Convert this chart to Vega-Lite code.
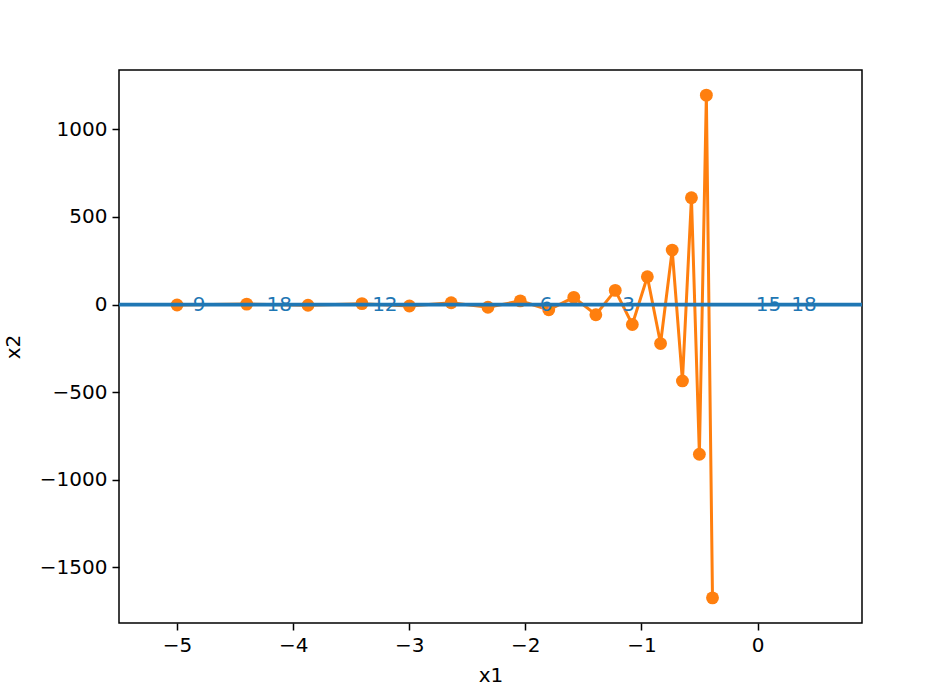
{
  "$schema": "https://vega.github.io/schema/vega-lite/v6.json",
  "width": 743,
  "height": 553,
  "autosize": "none",
  "padding": {"left": 119, "top": 70, "right": 75, "bottom": 77},
  "background": "white",
  "config": {
    "font": "DejaVu Sans",
    "view": {"stroke": "black", "strokeWidth": 1.5},
    "axis": {
      "domain": false,
      "grid": false,
      "tickColor": "black",
      "tickSize": 7,
      "tickWidth": 1.5,
      "labelFont": "DejaVu Sans",
      "labelFontSize": 20,
      "labelColor": "black",
      "labelPadding": 5,
      "titleFont": "DejaVu Sans",
      "titleFontSize": 20,
      "titleFontWeight": "normal",
      "titleColor": "black"
    }
  },
  "datasets": {
    "trace": [
      {"step": 0, "x1": -5.0, "x2": -2.0},
      {"step": 1, "x1": -4.4, "x2": 2.8},
      {"step": 2, "x1": -3.872, "x2": -3.92},
      {"step": 3, "x1": -3.40736, "x2": 5.488},
      {"step": 4, "x1": -2.99848, "x2": -7.6832},
      {"step": 5, "x1": -2.63866, "x2": 10.7565},
      {"step": 6, "x1": -2.32202, "x2": -15.0591},
      {"step": 7, "x1": -2.04338, "x2": 21.0827},
      {"step": 8, "x1": -1.79818, "x2": -29.5158},
      {"step": 9, "x1": -1.5824, "x2": 41.3221},
      {"step": 10, "x1": -1.39251, "x2": -57.851},
      {"step": 11, "x1": -1.22541, "x2": 80.991},
      {"step": 12, "x1": -1.07836, "x2": -113.388},
      {"step": 13, "x1": -0.94896, "x2": 158.743},
      {"step": 14, "x1": -0.83508, "x2": -222.24},
      {"step": 15, "x1": -0.73487, "x2": 311.136},
      {"step": 16, "x1": -0.64669, "x2": -435.59},
      {"step": 17, "x1": -0.56909, "x2": 609.826},
      {"step": 18, "x1": -0.5008, "x2": -853.757},
      {"step": 19, "x1": -0.4407, "x2": 1195.259},
      {"step": 20, "x1": -0.38782, "x2": -1673.363}
    ],
    "labels": [
      {"x1": -4.81, "x2": 0, "label": "9"},
      {"x1": -4.12, "x2": 0, "label": "18"},
      {"x1": -3.21, "x2": 0, "label": "12"},
      {"x1": -1.82, "x2": 0, "label": "6"},
      {"x1": -1.11, "x2": 0, "label": "3"},
      {"x1": 0.095, "x2": 0, "label": "15"},
      {"x1": 0.40, "x2": 0, "label": "18"}
    ],
    "contour": [
      {"x2": 0}
    ]
  },
  "layer": [
    {
      "data": {"name": "trace"},
      "mark": {"type": "line", "color": "#ff7f0e", "strokeWidth": 3},
      "encoding": {
        "order": {"field": "step", "type": "quantitative"},
        "x": {
          "field": "x1", "type": "quantitative",
          "scale": {"domain": [-5.5, 0.9], "nice": false, "zero": false},
          "axis": {"title": "x1", "values": [-5, -4, -3, -2, -1, 0], "format": "d", "labelExpr": "replace(datum.label, '-', '−')", "titlePadding": 10}
        },
        "y": {
          "field": "x2", "type": "quantitative",
          "scale": {"domain": [-1816.79, 1338.69], "nice": false, "zero": false},
          "axis": {"title": "x2", "values": [-1500, -1000, -500, 0, 500, 1000], "format": "d", "labelExpr": "replace(datum.label, '-', '−')", "titlePadding": 16}
        }
      }
    },
    {
      "data": {"name": "trace"},
      "mark": {"type": "circle", "color": "#ff7f0e", "opacity": 1, "size": 165},
      "encoding": {
        "x": {"field": "x1", "type": "quantitative", "scale": {"domain": [-5.5, 0.9], "nice": false, "zero": false}},
        "y": {"field": "x2", "type": "quantitative", "scale": {"domain": [-1816.79, 1338.69], "nice": false, "zero": false}}
      }
    },
    {
      "data": {"name": "contour"},
      "mark": {"type": "rule", "color": "#1f77b4", "strokeWidth": 3.6},
      "encoding": {
        "y": {"field": "x2", "type": "quantitative", "scale": {"domain": [-1816.79, 1338.69], "nice": false, "zero": false}}
      }
    },
    {
      "data": {"name": "labels"},
      "mark": {"type": "text", "color": "#1f77b4", "fontSize": 20, "align": "center", "baseline": "middle", "font": "DejaVu Sans"},
      "encoding": {
        "x": {"field": "x1", "type": "quantitative", "scale": {"domain": [-5.5, 0.9], "nice": false, "zero": false}},
        "y": {"field": "x2", "type": "quantitative", "scale": {"domain": [-1816.79, 1338.69], "nice": false, "zero": false}},
        "text": {"field": "label", "type": "nominal"}
      }
    }
  ]
}
